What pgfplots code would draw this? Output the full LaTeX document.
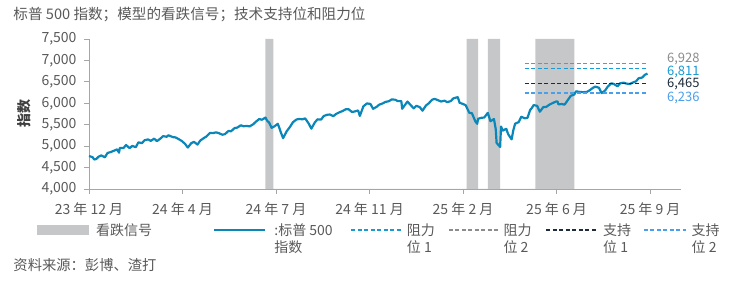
\documentclass[border=0pt]{standalone}
\usepackage{fontspec}
\setmainfont{Noto Sans CJK SC}
\usepackage{pgfplots}
\pgfplotsset{compat=1.18}
\definecolor{spx}{HTML}{0A87B8}
\definecolor{bear}{HTML}{C6C7C9}
\definecolor{res1}{HTML}{1A9AD0}
\definecolor{res2}{HTML}{8C8C8C}
\definecolor{sup1}{HTML}{1E2B3A}
\definecolor{sup2}{HTML}{4A9FEA}
\definecolor{txt}{HTML}{595959}
\definecolor{axisc}{HTML}{A6A6A6}
\newcommand{\fs}{\fontsize{14bp}{17.5bp}\selectfont}
\pgfplotstableread{
d v
0 4770
4 4743
6 4689
8 4697
11 4756
14 4784
18 4739
21 4840
25 4865
28 4891
32 4925
34 4846
35 4959
39 4954
42 5027
46 4953
49 5005
53 4975
56 5089
60 5070
63 5137
67 5157
70 5124
74 5175
77 5117
81 5178
84 5234
88 5218
90 5254
95 5211
98 5204
102 5160
105 5123
109 5051
112 4967
116 5071
119 5100
123 5036
126 5128
130 5187
133 5223
137 5308
140 5303
144 5321
147 5305
151 5267
154 5278
158 5354
161 5347
165 5421
168 5432
172 5487
175 5465
179 5470
182 5460
186 5509
189 5567
193 5633
196 5615
200 5667
202 5589
204 5555
207 5427
210 5459
214 5522
216 5410
217 5346
220 5186
224 5344
228 5455
231 5554
235 5620
238 5634
242 5626
245 5648
249 5528
252 5408
256 5554
259 5626
263 5618
266 5702
270 5732
273 5738
277 5699
280 5751
284 5792
287 5815
291 5860
294 5864
298 5797
301 5808
305 5833
307 5705
311 5929
315 5996
319 5985
322 5871
326 5917
329 5969
333 5998
336 6032
340 6049
343 6090
347 6084
350 6051
354 6050
355 5872
357 5930
361 6040
364 5971
368 5882
371 5942
375 5909
378 5827
382 5950
385 5997
389 6086
392 6101
396 6068
399 6041
403 6061
406 6026
410 6051
413 6115
418 6144
420 6013
424 5983
427 5955
431 5778
434 5770
438 5573
440 5522
441 5639
445 5662
448 5668
452 5777
455 5581
459 5633
461 5397
462 5074
466 4982
467 5457
469 5363
473 5405
475 5283
479 5158
481 5376
483 5525
487 5560
490 5686
494 5650
497 5660
500 5844
502 5892
504 5958
508 5940
510 5845
511 5803
515 5912
518 5912
522 5970
525 6000
529 6038
531 6045
532 5977
536 5982
539 5968
541 6025
546 6173
550 6205
552 6279
557 6263
560 6260
564 6263
567 6297
571 6358
574 6389
578 6362
581 6238
585 6299
588 6389
592 6466
595 6450
599 6396
602 6467
606 6481
609 6460
613 6448
616 6482
620 6512
623 6584
627 6600
630 6664
633 6693
}\spxdata
\begin{document}
\begin{tikzpicture}
\useasboundingbox (0,0) rectangle (737bp,284bp);
\node[anchor=west, text=txt, font=\fontsize{14.6bp}{17bp}\selectfont, inner sep=0pt] at (13.3bp,270bp) {标普 500 指数；模型的看跌信号；技术支持位和阻力位};
\node[anchor=west, text=txt, font=\fontsize{14.3bp}{17bp}\selectfont, inner sep=0pt] at (13.3bp,19bp) {资料来源：彭博、渣打};
\begin{axis}[
  at={(89bp,95bp)}, anchor=south west,
  scale only axis, width=592bp, height=150bp,
  xmin=0, xmax=671, ymin=4000, ymax=7500,
  clip=false,
  axis x line*=bottom, axis y line*=left,
  axis line style={axisc, line width=0.8pt},
  xtick={0,106,212,318,424,530,636},
  xticklabels={23 年 12 月, 24 年 4 月, 24 年 7 月, 24 年 11 月, 25 年 2 月, 25 年 6 月, 25 年 9 月},
  ytick={4000,4500,5000,5500,6000,6500,7000,7500},
  yticklabels={{4,000},{4,500},{5,000},{5,500},{6,000},{6,500},{7,000},{7,500}},
  tick align=outside, major tick length=5bp,
  tick style={axisc, line width=0.8pt},
  tick label style={text=txt, font=\fs},
  xticklabel style={yshift=-5bp},
  yticklabel style={xshift=-4bp},
  ylabel={\textbf{指数}},
  ylabel style={at={(axis description cs:-0.109,0.5)}, anchor=center, text=black!75, font=\fs},
  legend columns=6,
  legend style={at={(axis description cs:-0.0878,-0.213)}, anchor=north west,
    draw=none, fill=none, font=\fs, text=txt, inner sep=0pt,
    /tikz/every even column/.append style={column sep=0pt},
    /tikz/every odd column/.append style={column sep=0pt}},
  legend cell align=left,
]
\addplot[fill=bear, draw=none,
  legend image code/.code={\fill[bear] (0bp,-5bp) rectangle (52bp,5bp);}]
  coordinates {(200,4000)(200,7500)(209,7500)(209,4000)
               (428,4000)(428,7500)(441,7500)(441,4000)
               (452,4000)(452,7500)(466,7500)(466,4000)
               (506,4000)(506,7500)(550,7500)(550,4000)} \closedcycle;
\addlegendentry{\makebox[120bp][l]{\hspace{5bp}看跌信号}}
\addplot[spx, line width=2.2pt, line join=round,
  legend image code/.code={\draw[spx, line width=2.2pt] (0bp,0bp) -- (51bp,0bp);}]
  table[x=d, y=v] {\spxdata};
\addlegendentry{\makebox[80bp][l]{\hspace{6bp}\begin{tabular}[t]{@{}l@{}}:标普 500\\指数\end{tabular}}}
\addplot[res1, line width=1.6pt, dash pattern=on 4bp off 2.5bp,
  legend image code/.code={\draw[res1, line width=1.6pt, dash pattern=on 4bp off 2.5bp] (0bp,0bp) -- (50bp,0bp);}]
  coordinates {(494,6811)(633,6811)};
\addlegendentry{\makebox[42bp][l]{\hspace{3bp}\begin{tabular}[t]{@{}l@{}}阻力\\位 1\end{tabular}}}
\addplot[res2, line width=1.6pt, dash pattern=on 4bp off 2.5bp,
  legend image code/.code={\draw[res2, line width=1.6pt, dash pattern=on 4bp off 2.5bp] (0bp,0bp) -- (50bp,0bp);}]
  coordinates {(494,6928)(633,6928)};
\addlegendentry{\makebox[42bp][l]{\hspace{2bp}\begin{tabular}[t]{@{}l@{}}阻力\\位 2\end{tabular}}}
\addplot[sup1, line width=1.6pt, dash pattern=on 4bp off 2.5bp,
  legend image code/.code={\draw[sup1, line width=1.6pt, dash pattern=on 4bp off 2.5bp] (0bp,0bp) -- (51bp,0bp);}]
  coordinates {(494,6465)(633,6465)};
\addlegendentry{\makebox[41bp][l]{\hspace{3bp}\begin{tabular}[t]{@{}l@{}}支持\\位 1\end{tabular}}}
\addplot[sup2, line width=1.6pt, dash pattern=on 4bp off 2.5bp,
  legend image code/.code={\draw[sup2, line width=1.6pt, dash pattern=on 4bp off 2.5bp] (0bp,0bp) -- (42bp,0bp);}]
  coordinates {(494,6236)(633,6236)};
\addlegendentry{\makebox[40bp][l]{\hspace{3bp}\begin{tabular}[t]{@{}l@{}}支持\\位 2\end{tabular}}}
\node[anchor=west, text=res2, font=\fontsize{13bp}{15bp}\selectfont, inner sep=0pt] at (axis cs:655,7022) {6,928};
\node[anchor=west, text=res1, font=\fontsize{13bp}{15bp}\selectfont, inner sep=0pt] at (axis cs:655,6730) {6,811};
\node[anchor=west, text=sup1, font=\fontsize{13bp}{15bp}\selectfont, inner sep=0pt] at (axis cs:655,6450) {6,465};
\node[anchor=west, text=sup2, font=\fontsize{13bp}{15bp}\selectfont, inner sep=0pt] at (axis cs:655,6123) {6,236};
\end{axis}
\end{tikzpicture}
\end{document}
